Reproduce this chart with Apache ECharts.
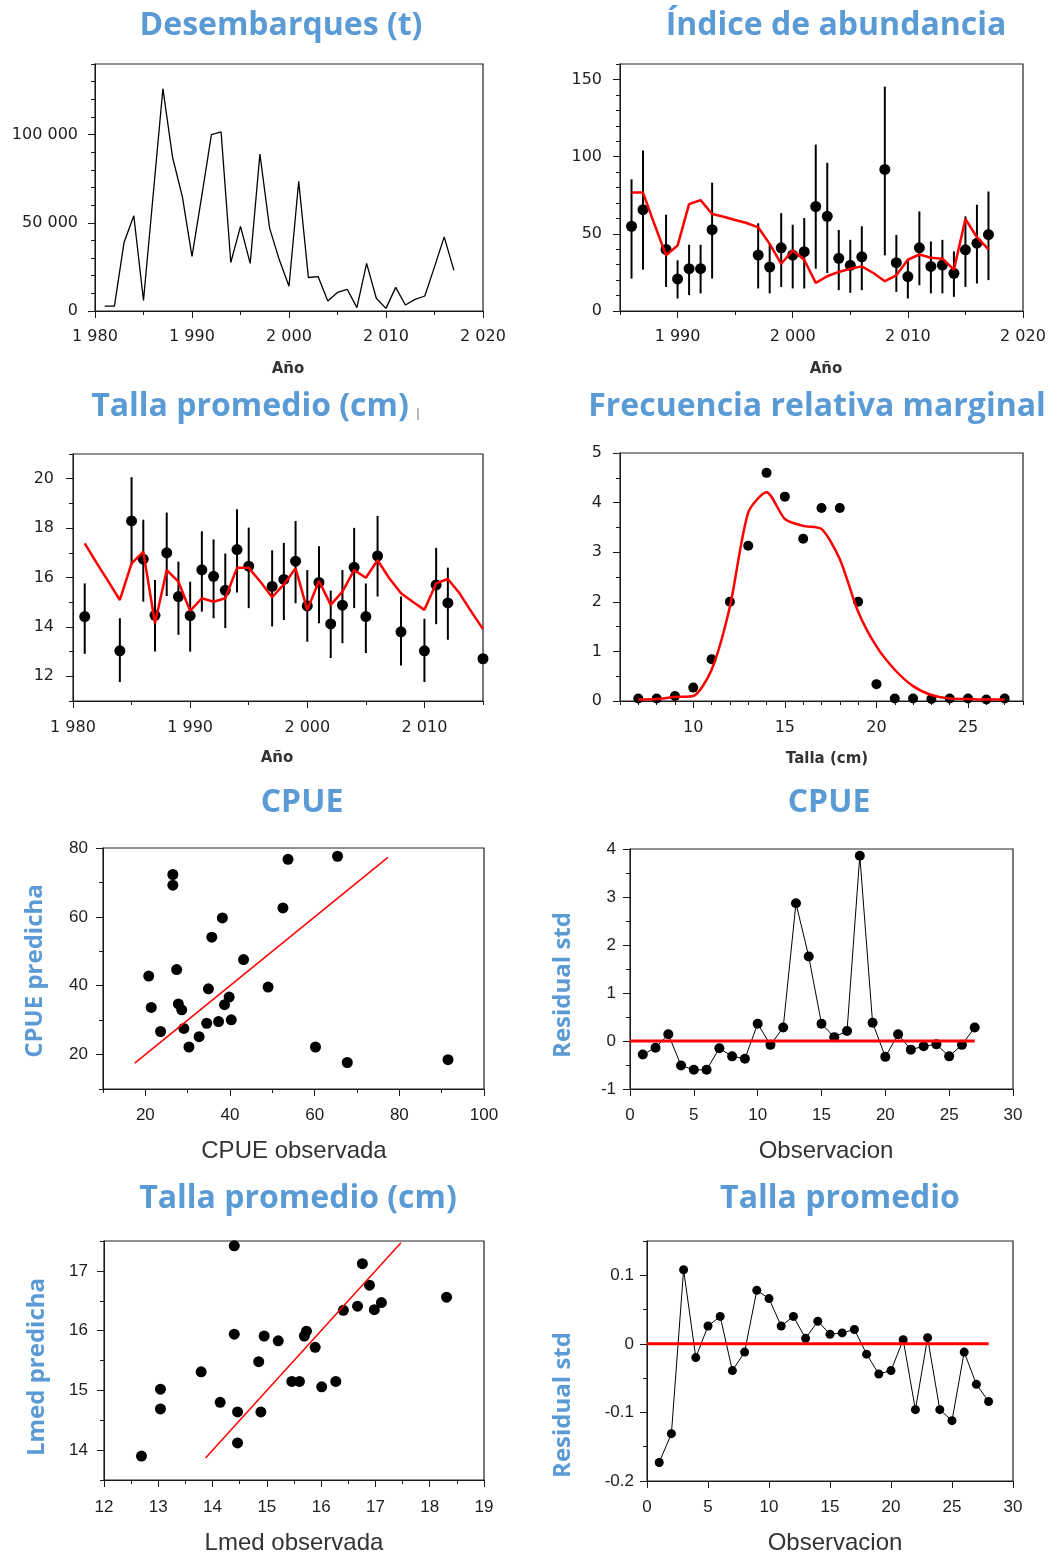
<!DOCTYPE html>
<html>
<head>
<meta charset="utf-8">
<title>Diagnóstico del modelo</title>
<script src="https://cdn.jsdelivr.net/npm/echarts@6/dist/echarts.min.js"></script>
<style>
  html, body { margin: 0; padding: 0; background: #fff; }
  #chart { width: 1060px; height: 1558px; }
</style>
</head>
<body>
<div id="chart"></div>
<script>
// Desembarques (t)
const desYears = [1981, 1982, 1983, 1984, 1985, 1986, 1987, 1988, 1989, 1990, 1991, 1992, 1993, 1994, 1995, 1996, 1997, 1998, 1999,
    2000, 2001, 2002, 2003, 2004, 2005, 2006, 2007, 2008, 2009, 2010, 2011, 2012, 2013, 2014, 2015, 2016, 2017];
const desembarques = [2800, 2800, 39000, 54000, 6000, 66000, 126000, 87000, 65000, 31000, 65000, 100000, 101500, 27500, 48000, 27000, 89000, 47000, 29000,
    14000, 73500, 19000, 19500, 5700, 10500, 12300, 1900, 27000, 7200, 1500, 13400, 3400, 6600, 8500, 25000, 42000, 23000];

// Indice de abundancia: observado con intervalos y ajustado
const idxYears = [1986, 1987, 1989, 1990, 1991, 1992, 1993, 1997, 1998, 1999, 2000, 2001, 2002, 2003, 2004, 2005, 2006, 2008, 2009, 2010, 2011, 2012, 2013, 2014, 2015, 2016, 2017];
const idxObs = [54.9, 65.6, 39.9, 20.8, 27.4, 27.4, 52.7, 36.2, 28.5, 40.9, 36.2, 38.4, 67.7, 61.3, 34.1, 29.6, 35.1, 91.7, 31.3, 22.3, 40.9, 28.9, 29.8, 24.4, 39.6, 43.9, 49.5];
const idxLow = [21, 26.8, 15.6, 8.1, 10.3, 11.4, 21, 14.6, 11.4, 15.6, 14.6, 14.6, 27.4, 24.6, 13.5, 11.8, 13.5, 36, 12.4, 8.1, 16.7, 11.4, 11.4, 9.2, 15.6, 17.8, 20];
const idxHigh = [85.3, 104, 62.4, 32.8, 42.9, 42.9, 83.1, 56.8, 43.5, 63.4, 55.9, 60.2, 107.8, 96, 52.5, 46.1, 54.9, 145.3, 49.3, 32.8, 64.5, 45, 46.1, 38.6, 61.3, 68.8, 77.4];
const idxPredYears = [1986, 1987, 1988, 1989, 1990, 1991, 1992, 1993, 1994, 1995, 1996, 1997, 1998, 1999, 2000, 2001,
    2002, 2003, 2004, 2005, 2006, 2007, 2008, 2009, 2010, 2011, 2012, 2013, 2014, 2015, 2016, 2017];
const idxPred = [76.7, 76.7, 56, 36, 42.4, 69.2, 71.8, 62.8, 61, 59, 57, 54.2, 43.5, 30.6, 39.2, 33.2,
    18.2, 22.5, 25.3, 27.4, 28.9, 24.6, 19.3, 23.1, 33.2, 36.6, 34.5, 33.9, 26.8, 59.6, 47.8, 39.9];

// Talla promedio (cm)
const lenYears = [1981, 1984, 1985, 1986, 1987, 1988, 1989, 1990, 1991, 1992, 1993, 1994, 1995, 1997, 1998, 1999, 2000, 2001, 2002, 2003, 2004, 2005, 2006, 2008, 2010, 2011, 2012, 2015];
const lenObs = [14.42, 13.03, 18.29, 16.74, 14.47, 17.0, 15.23, 14.46, 16.31, 16.05, 15.48, 17.13, 16.46, 15.64, 15.92, 16.66, 14.85, 15.8, 14.12, 14.88, 16.41, 14.42, 16.87, 13.8, 13.03, 15.7, 14.97, 12.71];
const lenLow = [12.91, 11.77, 16.5, 15.02, 13.0, 15.25, 13.68, 13.0, 14.62, 14.35, 13.95, 15.39, 14.76, 14.02, 14.28, 14.96, 13.4, 14.15, 12.74, 13.34, 14.76, 12.94, 15.23, 12.44, 11.77, 14.11, 13.48, 12.71];
const lenHigh = [15.76, 14.35, 20.06, 18.34, 15.9, 18.63, 16.64, 15.83, 17.87, 17.54, 16.97, 18.76, 18.02, 17.1, 17.4, 18.29, 16.3, 17.27, 15.47, 16.3, 18.01, 15.76, 18.49, 15.23, 14.33, 17.2, 16.4, 12.71];
const lenPredYears = [1981, 1982, 1983, 1984, 1985, 1986, 1987, 1988, 1989, 1990, 1991, 1992, 1993, 1994, 1995, 1996, 1997, 1998,
    1999, 2000, 2001, 2002, 2003, 2004, 2005, 2006, 2007, 2008, 2009, 2010, 2011, 2012, 2013, 2014, 2015];
const lenPred = [17.38, 16.6, 15.85, 15.09, 16.57, 17.04, 14.15, 16.3, 15.83, 14.65, 15.16, 15.02, 15.16, 16.39, 16.39, 15.83, 15.2, 15.72,
    16.37, 14.69, 15.86, 14.89, 15.43, 16.3, 15.99, 16.7, 15.97, 15.36, 15.02, 14.69, 15.76, 15.94, 15.36, 14.62, 13.91];

// Frecuencia relativa marginal
const tallaBins = [7, 8, 9, 10, 11, 12, 13, 14, 15, 16, 17, 18, 19, 20, 21, 22, 23, 24, 25, 26, 27];
const freqObs = [0.05, 0.05, 0.1, 0.27, 0.84, 2.0, 3.13, 4.6, 4.12, 3.27, 3.89, 3.89, 2.0, 0.34, 0.05, 0.05, 0.04, 0.05, 0.05, 0.03, 0.05];
const freqPred = [0.03, 0.04, 0.08, 0.1, 0.63, 1.9, 3.8, 4.21, 3.67, 3.53, 3.47, 2.86, 1.8, 1.1, 0.63, 0.3, 0.12, 0.05, 0.04, 0.03, 0.03];

// CPUE observada vs predicha
const cpueObs = [20.8, 21.4, 23.6, 26.5, 26.5, 27.4, 27.8, 28.6, 29.1, 30.3, 32.7, 34.5, 34.9, 35.7, 37.3, 38.2, 38.7, 39.8, 40.3, 43.2, 49, 52.5, 53.7, 60.2, 65.4, 67.7, 91.5];
const cpuePred = [42.8, 33.7, 26.7, 72.3, 69.2, 44.7, 34.7, 33, 27.6, 22.2, 25.2, 29.1, 39.1, 54.1, 29.6, 59.7, 34.5, 36.7, 30.1, 47.6, 39.6, 62.6, 76.7, 22.2, 77.6, 17.7, 18.5];
const cpueLine = [17.5, 77.3];

// CPUE residuales
const cpueRes = [-0.28, -0.14, 0.14, -0.51, -0.6, -0.6, -0.15, -0.32, -0.37, 0.36, -0.08, 0.28, 2.87, 1.76, 0.36, 0.08, 0.21, 3.86, 0.38, -0.33, 0.14, -0.18, -0.11, -0.07, -0.32, -0.08, 0.28];

// Lmed observada vs predicha
const lmedObs = [12.69, 13.04, 13.04, 13.79, 14.14, 14.4, 14.4, 14.46, 14.46, 14.85, 14.89, 14.95, 15.21, 15.46, 15.6, 15.69, 15.73, 15.89, 16.01, 16.27, 16.41, 16.67, 16.76, 16.89, 16.98, 17.11, 18.31];
const lmedPred = [13.9, 15.02, 14.69, 15.31, 14.8, 17.42, 15.94, 14.64, 14.12, 15.48, 14.64, 15.91, 15.83, 15.15, 15.15, 15.91, 15.99, 15.72, 15.06, 15.15, 16.34, 16.41, 17.12, 16.76, 16.35, 16.47, 16.56];
const lmedLine = [13.87, 17.47];

// Talla promedio residuales
const lmedRes = [-0.173, -0.131, 0.108, -0.02, 0.026, 0.04, -0.039, -0.012, 0.078, 0.066, 0.026, 0.04, 0.008, 0.033, 0.014, 0.016, 0.021, -0.015, -0.044, -0.039, 0.006, -0.096, 0.009, -0.096, -0.112, -0.012, -0.059, -0.084];

// ticks
function steps(a, b, d) {
    const out = [];
    for (let v = a; v <= b + 1e-9; v += d) out.push(+v.toFixed(4));
    return out;
}
const spaced = v => String(v).replace(/\B(?=(\d{3})+(?!\d))/g, ' ');
const plain = v => String(v);

const upperFont = { family: 'DejaVu Sans', size: 16 };
const lowerFont = { family: 'Liberation Sans', size: 17 };
const INK = '#1a1a1a';
const RED = '#ff0000';
const BLUE = '#5b9bd5';

const grids = [], xAxes = [], yAxes = [], series = [];

function makeAxis(dim, g, a, major, font) {
    const ticks = major ? a.major : a.minor;
    return {
        type: 'value',
        gridIndex: g,
        position: dim === 'x' ? 'bottom' : 'left',
        min: a.min,
        max: a.max,
        axisLine: { show: major, onZero: false, lineStyle: { color: INK, width: 1 } },
        axisTick: { show: ticks.length > 0, length: major ? 7 : 4, customValues: ticks, lineStyle: { color: INK, width: 1 } },
        axisLabel: {
            show: major, customValues: a.major, margin: a.margin, formatter: a.fmt,
            color: '#1e1e1e', fontFamily: font.family, fontSize: font.size
        },
        splitLine: { show: false }
    };
}

function addPanel(box, xa, ya, font) {
    const g = grids.length;
    grids.push({ left: box[0], top: box[1], width: box[2], height: box[3], show: true, borderColor: '#222', borderWidth: 1.2 });
    const ref = { xAxisIndex: xAxes.length, yAxisIndex: yAxes.length };
    xAxes.push(makeAxis('x', g, xa, true, font), makeAxis('x', g, xa, false, font));
    yAxes.push(makeAxis('y', g, ya, true, font), makeAxis('y', g, ya, false, font));
    return ref;
}

function errorBars(ref, xs, lo, hi) {
    return Object.assign({
        type: 'custom',
        renderItem: (params, api) => {
            const a = api.coord([api.value(0), api.value(1)]);
            const b = api.coord([api.value(0), api.value(2)]);
            return { type: 'line', shape: { x1: a[0], y1: a[1], x2: b[0], y2: b[1] }, style: { stroke: '#000', lineWidth: 2 } };
        },
        encode: { x: 0, y: [1, 2] },
        data: xs.map((x, i) => [x, lo[i], hi[i]]),
        z: 2
    }, ref);
}
function dots(ref, xs, ys, size) {
    return Object.assign({
        type: 'scatter', symbol: 'circle', symbolSize: size,
        itemStyle: { color: '#000', opacity: 1 },
        data: xs.map((x, i) => [x, ys[i]]),
        z: 3
    }, ref);
}
function line(ref, xs, ys, color, width, z) {
    return Object.assign({
        type: 'line', showSymbol: false, symbol: 'none',
        lineStyle: { color: color, width: width },
        data: xs.map((x, i) => [x, ys[i]]),
        z: z
    }, ref);
}
function residuals(ref, ys, size) {
    return Object.assign({
        type: 'line', symbol: 'circle', symbolSize: size, showSymbol: true,
        lineStyle: { color: '#000', width: 1 },
        itemStyle: { color: '#000', opacity: 1 },
        data: ys.map((y, i) => [i + 1, y]),
        z: 3
    }, ref);
}

// 1. Desembarques
const p1 = addPanel([95, 64, 388, 247],
    { min: 1980, max: 2020, major: [1980, 1990, 2000, 2010, 2020], minor: steps(1980, 2020, 5), margin: 18, fmt: spaced },
    { min: 0, max: 140000, major: [0, 50000, 100000], minor: steps(0, 140000, 10000), margin: 17, fmt: spaced }, upperFont);
series.push(line(p1, desYears, desembarques, '#000', 1.3, 3));

// 2. Indice de abundancia
const p2 = addPanel([620, 64, 403, 247],
    { min: 1985, max: 2020, major: [1990, 2000, 2010, 2020], minor: steps(1985, 2020, 5), margin: 18, fmt: spaced },
    { min: 0, max: 160, major: [0, 50, 100, 150], minor: steps(0, 160, 10), margin: 18, fmt: plain }, upperFont);
series.push(errorBars(p2, idxYears, idxLow, idxHigh));
series.push(dots(p2, idxYears, idxObs, 11));
series.push(line(p2, idxPredYears, idxPred, RED, 2.5, 4));

// 3. Talla promedio
const p3 = addPanel([73, 454, 410, 247],
    { min: 1980, max: 2015, major: [1980, 1990, 2000, 2010], minor: steps(1980, 2015, 5), margin: 19, fmt: spaced },
    { min: 11, max: 21, major: [12, 14, 16, 18, 20], minor: steps(11, 21, 1), margin: 19, fmt: plain }, upperFont);
series.push(errorBars(p3, lenYears, lenLow, lenHigh));
series.push(dots(p3, lenYears, lenObs, 11));
series.push(line(p3, lenPredYears, lenPred, RED, 2.5, 4));

// 4. Frecuencia relativa marginal
const p4 = addPanel([620, 453, 403, 248],
    { min: 6, max: 28, major: [10, 15, 20, 25], minor: steps(6, 28, 1), margin: 19, fmt: plain },
    { min: 0, max: 5, major: [0, 1, 2, 3, 4, 5], minor: steps(0, 5, 0.5), margin: 18, fmt: plain }, upperFont);
series.push(dots(p4, tallaBins, freqObs, 10));
series.push(Object.assign(line(p4, tallaBins, freqPred, RED, 2.5, 4), { smooth: 0.25 }));

// 5. CPUE observada vs predicha
const p5 = addPanel([103, 848, 381, 241],
    { min: 10, max: 100, major: [20, 40, 60, 80, 100], minor: steps(10, 100, 10), margin: 18, fmt: plain },
    { min: 10, max: 80, major: [20, 40, 60, 80], minor: steps(10, 80, 10), margin: 15, fmt: plain }, lowerFont);
series.push(dots(p5, cpueObs, cpuePred, 11));
series.push(line(p5, cpueLine, cpueLine, RED, 1.5, 4));

// 6. CPUE residuales
const p6 = addPanel([630, 849, 383, 240],
    { min: 0, max: 30, major: steps(0, 30, 5), minor: [], margin: 18, fmt: plain },
    { min: -1, max: 4, major: [-1, 0, 1, 2, 3, 4], minor: steps(-1, 4, 0.5), margin: 14, fmt: plain }, lowerFont);
series.push(residuals(p6, cpueRes, 10));
series.push(line(p6, [0, cpueRes.length], [0, 0], RED, 3, 4));

// 7. Lmed observada vs predicha
const p7 = addPanel([104, 1241, 380, 239],
    { min: 12, max: 19, major: [12, 13, 14, 15, 16, 17, 18, 19], minor: steps(12, 19, 0.5), margin: 19, fmt: plain },
    { min: 13.5, max: 17.5, major: [14, 15, 16, 17], minor: steps(13.5, 17.5, 0.5), margin: 16, fmt: plain }, lowerFont);
series.push(dots(p7, lmedObs, lmedPred, 11));
series.push(line(p7, lmedLine, lmedLine, RED, 1.5, 4));

// 8. Talla promedio residuales
const p8 = addPanel([647, 1241, 366, 240],
    { min: 0, max: 30, major: steps(0, 30, 5), minor: [], margin: 18, fmt: plain },
    { min: -0.2, max: 0.15, major: [-0.2, -0.1, 0, 0.1], minor: steps(-0.2, 0.15, 0.05), margin: 13, fmt: plain }, lowerFont);
series.push(residuals(p8, lmedRes, 9));
series.push(line(p8, [0, lmedRes.length], [0, 0], RED, 3, 4));

// textos
const titles = [
    ['Desembarques (t)', 281, 26], ['Índice de abundancia', 836, 26],
    ['Talla promedio (cm)', 250, 407], ['Frecuencia relativa marginal', 817, 407],
    ['CPUE', 302, 803], ['CPUE', 829, 803],
    ['Talla promedio (cm)', 298, 1199], ['Talla promedio', 840, 1199]
];
const upperNames = [['Año', 288, 369], ['Año', 826, 369], ['Año', 277, 758], ['Talla (cm)', 827, 759]];
const lowerNames = [['CPUE observada', 294, 1151], ['Observacion', 826, 1151], ['Lmed observada', 294, 1543], ['Observacion', 835, 1543]];
const sideNames = [['CPUE predicha', 35, 971], ['Residual std', 563, 985], ['Lmed predicha', 37, 1367], ['Residual std', 563, 1405]];

function label(t, font, color, rot) {
    return {
        type: 'text', x: t[1], y: t[2], rotation: rot || 0,
        style: { text: t[0], font: font, fill: color, align: 'center', verticalAlign: 'middle', textAlign: 'center', textVerticalAlign: 'middle' }
    };
}
const graphic = [
    ...titles.map(t => label(t, 'bold 32px "Open Sans"', BLUE)),
    ...upperNames.map(t => label(t, 'bold 15px "DejaVu Sans"', '#333')),
    ...lowerNames.map(t => label(t, '24px "Liberation Sans"', '#333')),
    ...sideNames.map(t => label(t, 'bold 24px "Open Sans"', BLUE, Math.PI / 2)),
    { type: 'line', shape: { x1: 418, y1: 408, x2: 418, y2: 420 }, style: { stroke: '#777', lineWidth: 1 } }
];

var myChart = echarts.init(document.getElementById('chart'), null, { renderer: 'canvas' });
myChart.setOption({
    animation: false,
    backgroundColor: '#fff',
    grid: grids,
    xAxis: xAxes,
    yAxis: yAxes,
    series: series,
    graphic: graphic
});
</script>
</body>
</html>
